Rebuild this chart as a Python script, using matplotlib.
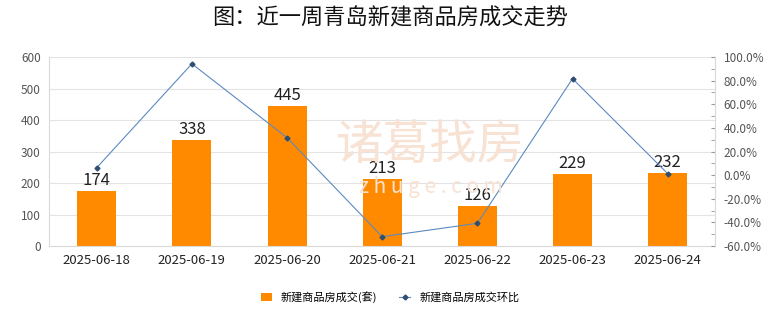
import matplotlib.pyplot as plt
import numpy as np
from matplotlib.ticker import MultipleLocator, FuncFormatter

plt.rcParams['font.family'] = ['Noto Sans CJK SC', 'DejaVu Sans']

dates = ['2025-06-18', '2025-06-19', '2025-06-20', '2025-06-21',
         '2025-06-22', '2025-06-23', '2025-06-24']
deals = [174, 338, 445, 213, 126, 229, 232]
ratio = [6.3, 94.3, 31.7, -52.1, -40.8, 81.7, 1.3]

fig = plt.figure(figsize=(7.8, 3.28), dpi=100)
ax = fig.add_axes([0.063, 0.25, 0.854, 0.576])
ax2 = ax.twinx()

# faint watermark behind everything
fig.text(0.552, 0.555, '诸葛找房', ha='center', va='center', fontsize=34,
         color='#f7e2d3', zorder=0)
fig.text(0.552, 0.43, 'z h u g e . c o m', ha='center', va='center', fontsize=15,
         color='#f7e2d3', zorder=0)
ax.patch.set_alpha(0)
ax2.patch.set_alpha(0)

x = np.arange(len(dates))
ax.bar(x, deals, width=0.41, color='#FF8A00', zorder=2, label='新建商品房成交(套)')
for i, v in enumerate(deals):
    ax.text(i, v + 6, str(v), ha='center', va='bottom', fontsize=12, color='#222222')

ax.set_xlim(-0.5, len(dates) - 0.5)
ax.set_ylim(0, 600)
ax.yaxis.set_major_locator(MultipleLocator(100))
ax.grid(axis='y', color='#e3e3e3', linewidth=0.8, zorder=0)
ax.set_axisbelow(True)
ax.set_xticks(x)
ax.set_xticklabels(dates, fontsize=9.5, color='#222222')
ax.tick_params(axis='x', length=0, pad=6)
ax.tick_params(axis='y', length=0, labelsize=8.5, labelcolor='#555555', pad=6)
for s in ['top', 'right']:
    ax.spines[s].set_visible(False)
ax.spines['left'].set_color('#d9d9d9')
ax.spines['bottom'].set_color('#d9d9d9')

ax2.plot(x, ratio, color='#5b8ac0', linewidth=0.8, marker='D', markersize=2.5,
         markerfacecolor='#2f4f70', markeredgecolor='#2f4f70', label='新建商品房成交环比', zorder=3)
ax2.set_ylim(-60, 100)
ax2.yaxis.set_major_locator(MultipleLocator(20))
ax2.yaxis.set_minor_locator(MultipleLocator(10))
ax2.yaxis.set_major_formatter(FuncFormatter(lambda v, p: f'{v:.1f}%'))
ax2.tick_params(axis='y', which='both', direction='in', length=3, color='#999999',
                labelsize=8.5, labelcolor='#555555', pad=6)
for s in ['top', 'left', 'bottom']:
    ax2.spines[s].set_visible(False)
ax2.spines['right'].set_color('#d9d9d9')

fig.suptitle('图：近一周青岛新建商品房成交走势', fontsize=16, y=0.98, color='#111111',
             fontweight='medium')

h1, l1 = ax.get_legend_handles_labels()
h2, l2 = ax2.get_legend_handles_labels()
fig.legend(h1 + h2, l1 + l2, loc='center', bbox_to_anchor=(0.5, 0.095), ncol=2,
           frameon=False, fontsize=8, handlelength=1.0, handleheight=0.7,
           columnspacing=2.0, handletextpad=0.8)

fig.savefig('out.png', dpi=100)
